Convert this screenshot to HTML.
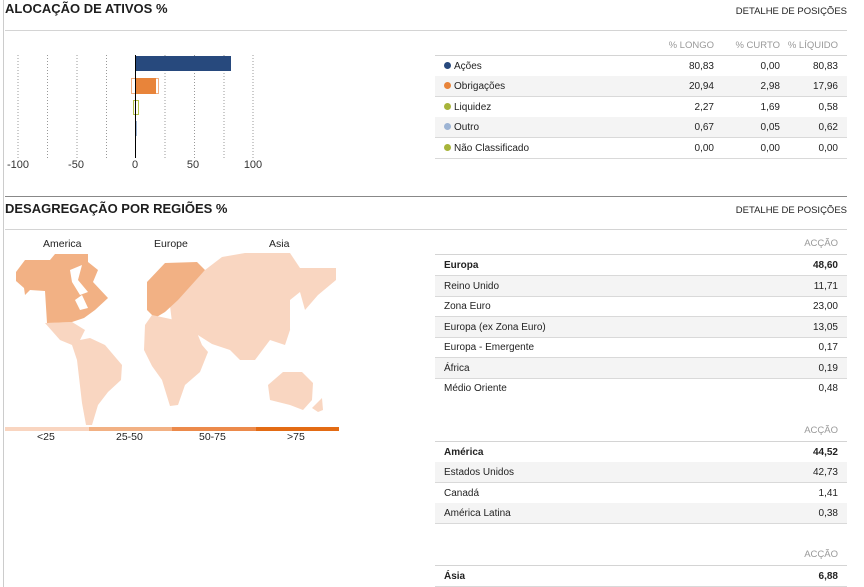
<!DOCTYPE html>
<html><head><meta charset="utf-8"><style>
body{margin:0;width:864px;height:587px;background:#fff;position:relative;overflow:hidden;font-family:"Liberation Sans","DejaVu Sans",sans-serif;color:#222}
.a{position:absolute;white-space:nowrap}
.t{font-size:13px;font-weight:bold;color:#1e1e1e}
.d{font-size:9.5px;color:#222}
.hl{position:absolute;height:1px;background:#d4d4d4}
.row{position:absolute;left:435px;width:412px;height:20px;border-bottom:1px solid #d9d9d9;font-size:10px;line-height:21px}
.g{background:#f4f4f4}
.row span{position:absolute}
.hd{position:absolute;font-size:9.5px;color:#999}
.dot{display:inline-block;width:7px;height:7px;border-radius:50%;margin-right:3px;vertical-align:-0px}
</style></head><body>
<div style="position:absolute;left:3px;top:0;width:1px;height:587px;background:#ccc"></div>
<div class="a t" style="left:5px;top:1px">ALOCAÇÃO DE ATIVOS %</div>
<div class="a d" style="right:17px;top:6px">DETALHE DE POSIÇÕES</div>
<div class="hl" style="left:5px;top:30px;width:842px"></div>

<svg class="a" style="left:0;top:40px" width="300" height="135">
<g stroke="#999" stroke-dasharray="1,2" stroke-width="1">
<line x1="18" y1="15" x2="18" y2="118"/><line x1="47.5" y1="15" x2="47.5" y2="118"/><line x1="77" y1="15" x2="77" y2="118"/><line x1="106.5" y1="15" x2="106.5" y2="118"/>
<line x1="165" y1="15" x2="165" y2="118"/><line x1="194.5" y1="15" x2="194.5" y2="118"/><line x1="224" y1="15" x2="224" y2="118"/><line x1="253" y1="15" x2="253" y2="118"/>
</g>
<rect x="135" y="16" width="96" height="15" fill="#27497d"/>
<rect x="131.5" y="38.5" width="27" height="15" fill="none" stroke="#f2b184"/>
<rect x="135" y="38" width="21" height="16" fill="#e8843a"/>
<rect x="133.5" y="60.5" width="5" height="14" fill="none" stroke="#b5c24a"/>
<rect x="135" y="81" width="2" height="15" fill="#9db4d4"/>
<line x1="135.5" y1="15" x2="135.5" y2="118" stroke="#000"/>
<g font-size="11" fill="#333" text-anchor="middle" font-family="Liberation Sans,sans-serif">
<text x="18" y="128">-100</text><text x="76" y="128">-50</text><text x="135" y="128">0</text><text x="193" y="128">50</text><text x="253" y="128">100</text></g>
</svg>

<div class="hd" style="right:150px;top:40px">% LONGO</div>
<div class="hd" style="right:84px;top:40px">% CURTO</div>
<div class="hd" style="right:26px;top:40px">% LÍQUIDO</div>
<div class="hl" style="left:435px;top:55px;width:412px"></div>
<div class="row" style="top:56px"><span style="left:9px"><i class="dot" style="background:#27497d"></i>Ações</span><span style="right:133px">80,83</span><span style="right:67px">0,00</span><span style="right:9px">80,83</span></div>
<div class="row g" style="top:76px"><span style="left:9px"><i class="dot" style="background:#e8843a"></i>Obrigações</span><span style="right:133px">20,94</span><span style="right:67px">2,98</span><span style="right:9px">17,96</span></div>
<div class="row" style="top:97px"><span style="left:9px"><i class="dot" style="background:#a7b43a"></i>Liquidez</span><span style="right:133px">2,27</span><span style="right:67px">1,69</span><span style="right:9px">0,58</span></div>
<div class="row g" style="top:117px"><span style="left:9px"><i class="dot" style="background:#9db4d4"></i>Outro</span><span style="right:133px">0,67</span><span style="right:67px">0,05</span><span style="right:9px">0,62</span></div>
<div class="row" style="top:138px"><span style="left:9px"><i class="dot" style="background:#a7b43a"></i>Não Classificado</span><span style="right:133px">0,00</span><span style="right:67px">0,00</span><span style="right:9px">0,00</span></div>

<div class="hl" style="left:5px;top:196px;width:842px;background:#888"></div>
<div class="a t" style="left:5px;top:201px">DESAGREGAÇÃO POR REGIÕES %</div>
<div class="a d" style="right:17px;top:205px">DETALHE DE POSIÇÕES</div>
<div class="hl" style="left:5px;top:229px;width:842px"></div>

<div class="a" style="left:43px;top:238px;font-size:10.5px">America</div>
<div class="a" style="left:154px;top:238px;font-size:10.5px">Europe</div>
<div class="a" style="left:269px;top:238px;font-size:10.5px">Asia</div>
<svg class="a" style="left:0;top:250px" width="345" height="195">
<g transform="translate(0,-250)">
<polygon fill="#f9d6c1" points="45,323 72,322 85,330 80,340 90,338 105,345 122,365 121,380 108,392 98,405 92,425 86,425 82,403 77,360 72,345 60,340"/>
<polygon fill="#f2b184" points="16,272 25,260 50,260 55,254 88,254 88,262 98,270 93,282 108,298 95,310 84,318 72,322 47,323 45,291 30,290 25,295 24,288 16,281"/>
<polygon fill="#fff" points="70,270 82,265 78,280 88,292 80,295 72,282"/>
<polygon fill="#fff" points="75,300 82,295 88,308 80,310"/>
<polygon fill="#f9d6c1" points="170,306 205,270 222,257 245,253 290,253 300,268 336,268 336,280 318,295 305,310 300,305 290,330 285,345 270,340 255,360 240,360 230,350 212,344 190,330 172,322"/>
<polygon fill="#f2b184" points="147,282 165,263 197,262 205,270 178,300 165,312 155,318 147,310"/>
<polygon fill="#f9d6c1" points="145,325 152,315 175,320 195,328 202,345 208,352 200,372 185,385 178,405 170,406 162,380 152,366 144,350"/>
<polygon fill="#f9d6c1" points="268,385 283,372 302,372 313,383 312,400 303,410 290,405 270,400"/>
<polygon fill="#f9d6c1" points="312,408 322,398 323,410 318,412"/>
<polygon fill="#fff" points="290,300 300,292 305,310 290,330"/>
</g>
</svg>
<div class="a" style="left:5px;top:427px;width:84px;height:4px;background:#f9d5c0"></div>
<div class="a" style="left:89px;top:427px;width:83px;height:4px;background:#f2b184"></div>
<div class="a" style="left:172px;top:427px;width:84px;height:4px;background:#ec8a4b"></div>
<div class="a" style="left:256px;top:427px;width:83px;height:4px;background:#e36b14"></div>
<div class="a" style="left:37px;top:431px;font-size:10.5px">&lt;25</div>
<div class="a" style="left:116px;top:431px;font-size:10.5px">25-50</div>
<div class="a" style="left:199px;top:431px;font-size:10.5px">50-75</div>
<div class="a" style="left:287px;top:431px;font-size:10.5px">&gt;75</div>

<div class="hd" style="right:26px;top:238px">ACÇÃO</div>
<div class="hl" style="left:435px;top:254px;width:412px"></div>
<div class="row" style="top:255px;font-weight:bold"><span style="left:9px">Europa</span><span style="right:9px">48,60</span></div>
<div class="row g" style="top:276px"><span style="left:9px">Reino Unido</span><span style="right:9px">11,71</span></div>
<div class="row" style="top:296px"><span style="left:9px">Zona Euro</span><span style="right:9px">23,00</span></div>
<div class="row g" style="top:317px"><span style="left:9px">Europa (ex Zona Euro)</span><span style="right:9px">13,05</span></div>
<div class="row" style="top:337px"><span style="left:9px">Europa - Emergente</span><span style="right:9px">0,17</span></div>
<div class="row g" style="top:358px"><span style="left:9px">África</span><span style="right:9px">0,19</span></div>
<div class="row" style="top:378px;border-bottom:none"><span style="left:9px">Médio Oriente</span><span style="right:9px">0,48</span></div>

<div class="hd" style="right:26px;top:425px">ACÇÃO</div>
<div class="hl" style="left:435px;top:441px;width:412px"></div>
<div class="row" style="top:442px;font-weight:bold"><span style="left:9px">América</span><span style="right:9px">44,52</span></div>
<div class="row g" style="top:462px"><span style="left:9px">Estados Unidos</span><span style="right:9px">42,73</span></div>
<div class="row" style="top:483px"><span style="left:9px">Canadá</span><span style="right:9px">1,41</span></div>
<div class="row g" style="top:503px"><span style="left:9px">América Latina</span><span style="right:9px">0,38</span></div>

<div class="hd" style="right:26px;top:549px">ACÇÃO</div>
<div class="hl" style="left:435px;top:565px;width:412px"></div>
<div class="row" style="top:566px;font-weight:bold"><span style="left:9px">Ásia</span><span style="right:9px">6,88</span></div>
</body></html>
